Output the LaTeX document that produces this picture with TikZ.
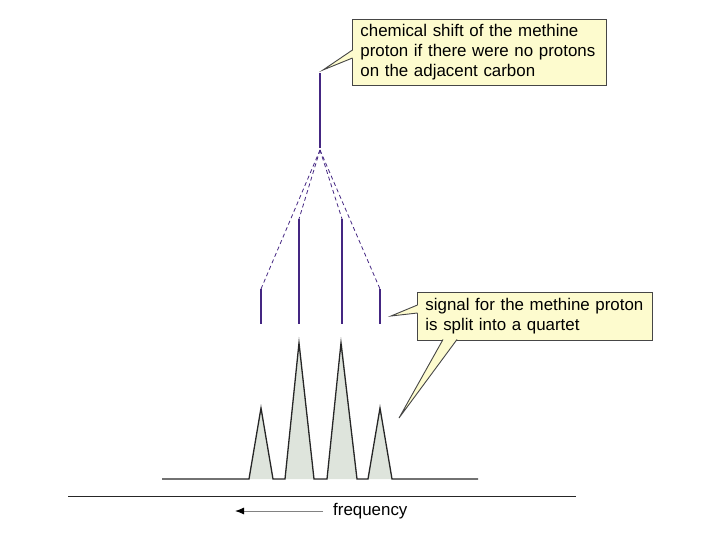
\documentclass[tikz,border=0pt]{standalone}
\usepackage{fontspec}
\setmainfont{Liberation Sans}
\usetikzlibrary{arrows.meta}
\definecolor{stickcol}{RGB}{68,38,130}
\definecolor{peakfill}{RGB}{222,228,220}
\definecolor{notefill}{RGB}{253,251,206}
\definecolor{notedraw}{RGB}{70,70,70}
\definecolor{arrowgrey}{RGB}{130,130,130}
\begin{document}
\begin{tikzpicture}[
        x=1pt, y=-1pt,
        stick/.style={draw=stickcol, line width=2pt},
        split/.style={draw=stickcol, dashed, dash pattern=on 4pt off 3pt, line width=0.8pt},
        peak/.style={fill=peakfill, draw=none},
        trace/.style={draw=black!85, line width=1.3pt, line join=miter},
        note/.style={draw=notedraw, fill=notefill, line width=0.9pt, anchor=north west,
            align=left, inner xsep=8pt, inner ysep=0pt,
            font=\fontsize{16.9}{20}\selectfont},
        pointer/.style={draw=notedraw, line width=0.9pt, line join=miter},
    ]
    \useasboundingbox (0,0) rectangle (720,540);

    % stick diagram
    \coordinate (top) at (320,73);
    \coordinate (apex) at (320,150);
    \coordinate (s1) at (261,289);
    \coordinate (s2) at (299,219);
    \coordinate (s3) at (342,219);
    \coordinate (s4) at (380,289);
    \draw[stick] (top) -- (320,148);
    \foreach \s in {s1,s2,s3,s4}{
        \draw[split] (apex) -- (\s);
        \draw[stick] (\s) -- (\s |- 0,324);
    }

    % quartet
    \foreach \a/\b/\h in {249/273/408, 285/314/343, 327/357/343, 368/392/408}{
        \fill[peak] (\a,479) -- ({(\a+\b)/2},\h) -- (\b,479) -- cycle;
    }
    \draw[trace] (162,479) -- (249,479) -- (261,408) -- (273,479) -- (285,479)
        -- (299,343) -- (314,479) -- (327,479) -- (341,343) -- (357,479)
        -- (368,479) -- (380,408) -- (392,479) -- (478,479);

    % axis
    \coordinate (axisL) at (68,496);
    \coordinate (axisR) at (576,496);
    \draw[black!85, line width=1pt] (axisL) -- (axisR);
    \node[anchor=west, inner sep=0pt, font=\fontsize{16.9}{18}\selectfont] (freq) at (333,511) {frequency};
    \coordinate (arrowend) at (235,511);
    \draw[arrowgrey, line width=1pt, -{Latex[length=9pt, width=7pt, black]}]
        ([xshift=-10pt]freq.west) -- (arrowend);

    % notes
    \node[note, minimum width=254pt, minimum height=66pt, text width=238pt] (shift) at (352,19)
        {\mbox{chemical shift of the methine}\\\mbox{proton if there were no protons}\\\mbox{on the adjacent carbon}};
    \coordinate (shifttip) at (323,70);
    \fill[notefill] (353,50) -- (shifttip) -- (353,58) -- cycle;
    \draw[pointer] (352.5,50) -- (shifttip) -- (352.5,58);
    \node[note, minimum width=235pt, minimum height=48pt, text width=219pt] (quartet) at (417,292)
        {\mbox{signal for the methine proton}\\\mbox{is split into a quartet}};
    \coordinate (leftTip) at (391,316);
    \coordinate (downTip) at (399,418);
    \fill[notefill] (418,305) -- (leftTip) -- (418,313) -- cycle;
    \draw[pointer] (417.5,305) -- (leftTip) -- (417.5,313);
    \fill[notefill] (443,339) -- (downTip) -- (457,339) -- cycle;
    \draw[pointer] (443,339.5) -- (downTip) -- (457,339.5);
\end{tikzpicture}
\end{document}
